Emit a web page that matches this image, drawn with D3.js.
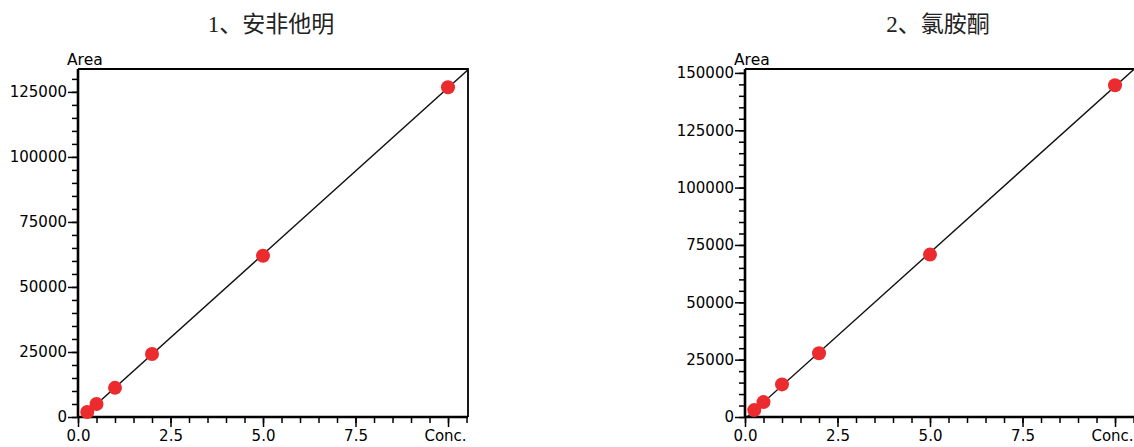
<!DOCTYPE html>
<html>
<head>
<meta charset="utf-8">
<script src="https://cdn.jsdelivr.net/npm/d3@7"></script>
<style>
  body { margin: 0; background: #fff; }
  svg { display: block; }
</style>
</head>
<body>
<svg width="1134" height="447"></svg>
<script>
// calibration data
const titles = ["1、安非他明", "2、氯胺酮"];
const conc = [0.25, 0.5, 1, 2, 5, 10];
const area1 = [1900, 5000, 11200, 24200, 62000, 126800];
const area2 = [3000, 6500, 14200, 27800, 70800, 144600];
const xTicks = [0, 2.5, 5, 7.5, 10];
const xTickLabels = ["0.0", "2.5", "5.0", "7.5", "Conc."];
const yTicks1 = [0, 25000, 50000, 75000, 100000, 125000];
const yTicks2 = [0, 25000, 50000, 75000, 100000, 125000, 150000];

const svg = d3.select("svg");

const drawChart = (opts) => {
  const { left, title, values, yMax, yTicks, id } = opts;
  const top = 69, bottom = 417, width = 390;
  const x = d3.scaleLinear().domain([0, 10.54]).range([left, left + width]);
  const y = d3.scaleLinear().domain([0, yMax]).range([bottom, top]);
  const g = svg.append("g");

  //title
  g.append("text")
    .attr("x", left + width / 2 - 2)
    .attr("y", 32)
    .attr("text-anchor", "middle")
    .attr("font-family", "'Liberation Serif', 'Noto Sans CJK SC', serif")
    .attr("font-size", 23)
    .attr("fill", "#222")
    .text(title);

  //top / right frame
  g.append("path")
    .attr("d", `M${left},${top}H${left + width}V${bottom}`)
    .attr("fill", "none")
    .attr("stroke", "#000")
    .attr("stroke-width", 1.8);

  //clip for regression line
  svg.append("clipPath").attr("id", "clip" + id)
    .append("rect")
    .attr("x", left).attr("y", top)
    .attr("width", width).attr("height", bottom - top);

  //least squares fit of the points
  const mx = d3.mean(conc), my = d3.mean(values);
  const slope = d3.sum(conc, (c, i) => (c - mx) * (values[i] - my)) /
    d3.sum(conc, (c) => (c - mx) * (c - mx));
  const icpt = my - slope * mx;
  const line = d3.line().x((d) => x(d)).y((d) => y(icpt + slope * d));
  g.append("path")
    .datum([0, 10.54])
    .attr("clip-path", `url(#clip${id})`)
    .attr("d", line)
    .attr("fill", "none")
    .attr("stroke", "#111")
    .attr("stroke-width", 1.4);

  //minor ticks
  const xMinor = d3.range(0, 10.6, 0.5);
  const yMinor = d3.range(0, yMax, 5000);
  g.append("g")
    .attr("transform", `translate(0,${bottom})`)
    .call(d3.axisBottom(x).tickValues(xMinor).tickSize(6).tickFormat(""))
    .call((a) => a.select(".domain").remove())
    .selectAll("line").attr("stroke-width", 1.5);
  g.append("g")
    .attr("transform", `translate(${left},0)`)
    .call(d3.axisLeft(y).tickValues(yMinor).tickSize(6).tickFormat(""))
    .call((a) => a.select(".domain").remove())
    .selectAll("line").attr("stroke-width", 1.5);

  //major axes
  const xAxis = g.append("g")
    .attr("transform", `translate(0,${bottom})`)
    .call(d3.axisBottom(x).tickValues(xTicks).tickSize(10).tickPadding(3)
      .tickFormat((d, i) => xTickLabels[i]));
  xAxis.select(".domain")
    .attr("d", `M${left},0H${left + width}`)
    .attr("stroke-width", 2.6);
  xAxis.selectAll(".tick text").filter((d) => d === 10).attr("dx", -3);
  const yAxis = g.append("g")
    .attr("transform", `translate(${left},0)`)
    .call(d3.axisLeft(y).tickValues(yTicks).tickSize(10).tickPadding(1)
      .tickFormat(d3.format("d")));
  yAxis.select(".domain")
    .attr("d", `M0,${top}V${bottom}`)
    .attr("stroke-width", 2.6);
  g.selectAll(".tick line").attr("stroke-width", 1.5);
  g.selectAll(".tick text")
    .attr("font-family", "'DejaVu Sans', sans-serif")
    .attr("font-size", 15)
    .attr("fill", "#000");

  //axis name
  g.append("text")
    .attr("x", left - 11)
    .attr("y", 65)
    .attr("font-family", "'DejaVu Sans', sans-serif")
    .attr("font-size", 15.5)
    .text("Area");

  //points
  g.append("g")
    .selectAll("circle")
    .data(conc)
    .join("circle")
    .attr("cx", (d) => x(d))
    .attr("cy", (d, i) => y(values[i]))
    .attr("r", 7)
    .attr("fill", "#ec2b2e");
};

drawChart({ id: 1, left: 78, title: titles[0], values: area1, yMax: 133800, yTicks: yTicks1 });
drawChart({ id: 2, left: 745, title: titles[1], values: area2, yMax: 151700, yTicks: yTicks2 });
</script>
</body>
</html>
